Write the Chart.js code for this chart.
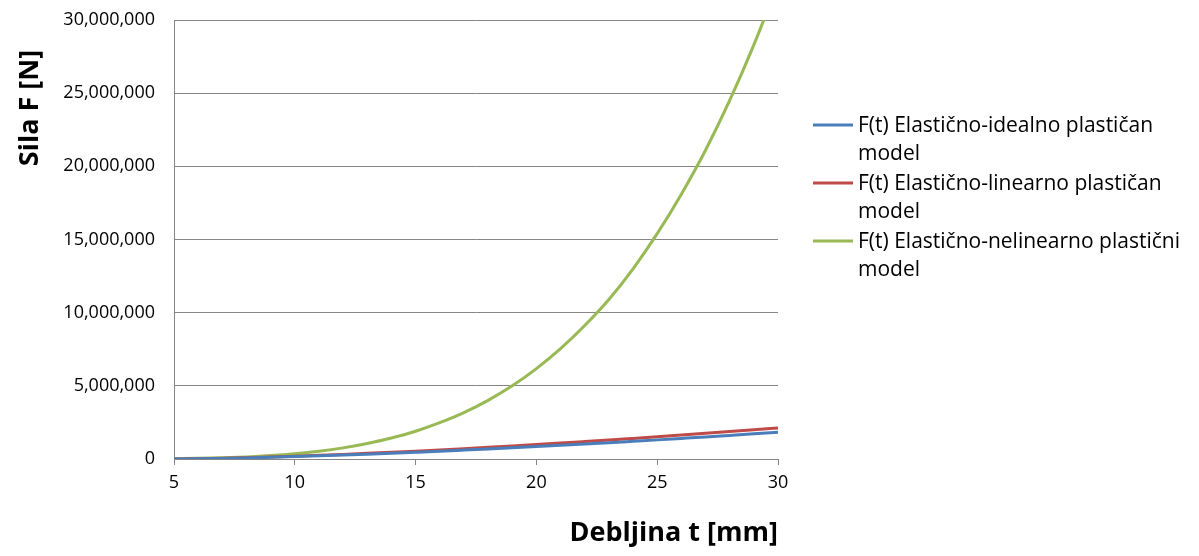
<!DOCTYPE html>
<html>
<head>
<meta charset="utf-8">
<script src="https://cdn.jsdelivr.net/npm/chart.js@4.4.1/dist/chart.umd.min.js"></script>
<style>
  html, body { margin: 0; padding: 0; background: #fff; }
  #wrap { width: 1199px; height: 556px; }
</style>
</head>
<body>
<div id="wrap"><canvas id="myChart" width="1199" height="556"></canvas></div>
<script>
// debljina t [mm]
const thickness = [5, 6, 7, 8, 9, 10, 11, 12, 13, 14, 15, 16, 17, 18, 19, 20, 21, 22, 23, 24, 25, 26, 27, 28, 29, 30];

// sila F [N]
const idealPlastic = [0, 15000, 41000, 76000, 117000, 163000, 215000, 271000, 331000, 395000, 463000, 533000, 608000, 685000, 766000, 850000, 936000, 1025000, 1116000, 1211000, 1307000, 1407000, 1508000, 1613000, 1719000, 1830000];
const linearPlastic = [0, 17000, 48000, 88000, 136000, 190000, 250000, 315000, 385000, 459000, 538000, 620000, 707000, 797000, 891000, 988000, 1088000, 1192000, 1298000, 1408000, 1520000, 1636000, 1754000, 1875000, 1999000, 2125000];
const nonlinearPlastic = [21000, 44000, 83000, 144000, 234000, 360000, 530000, 760000, 1060000, 1430000, 1900000, 2480000, 3170000, 4010000, 5000000, 6180000, 7540000, 9120000, 10900000, 13000000, 15400000, 18100000, 21100000, 24500000, 28300000, 32500000];

const seriesNames = [
    'F(t) Elastično-idealno plastičan model',
    'F(t) Elastično-linearno plastičan model',
    'F(t) Elastično-nelinearno plastični model'
];
const seriesColors = ['#4a7ebb', '#be4b48', '#98b954'];

const xTitle = 'Debljina t [mm]';
const yTitle = 'Sila F [N]';

const FONT = '"Open Sans", "Noto Sans", sans-serif';
const GRID = '#868686';

function toPoints(values) {
    return thickness.map((t, i) => ({ x: t, y: values[i] }));
}

// legend on the right, wrapped like the original
const sideLegend = {
    id: 'sideLegend',
    afterDraw(chart) {
        const ctx = chart.ctx;
        ctx.save();
        ctx.font = '21px ' + FONT;
        ctx.textBaseline = 'middle';
        ctx.textAlign = 'left';
        let y = 125;
        chart.data.datasets.forEach((ds) => {
            ctx.strokeStyle = ds.borderColor;
            ctx.lineWidth = 3;
            ctx.beginPath();
            ctx.moveTo(813, y);
            ctx.lineTo(853, y);
            ctx.stroke();

            const words = ds.label.split(' ');
            const lines = [];
            let line = '';
            for (let w of words) {
                const test = line ? line + ' ' + w : w;
                if (ctx.measureText(test).width > 345 && line) {
                    lines.push(line);
                    line = w;
                } else {
                    line = test;
                }
            }
            lines.push(line);
            ctx.fillStyle = '#000';
            lines.forEach((l, i) => ctx.fillText(l, 858, y + 1 + i * 28));
            y += 58;
        });
        ctx.restore();
    }
};

// vertical axis title sits near the top, not centred
const yAxisTitle = {
    id: 'yAxisTitle',
    afterDraw(chart) {
        const ctx = chart.ctx;
        ctx.save();
        ctx.font = 'bold 27px ' + FONT;
        ctx.fillStyle = '#000';
        ctx.textAlign = 'center';
        ctx.textBaseline = 'middle';
        ctx.translate(30, 108);
        ctx.rotate(-Math.PI / 2);
        ctx.fillText(yTitle, 0, 0);
        ctx.restore();
    }
};

var ctx = document.getElementById('myChart').getContext('2d');
var myChart = new Chart(ctx, {
    type: 'line',
    data: {
        datasets: [
            {
                label: seriesNames[0],
                data: toPoints(idealPlastic),
                borderColor: seriesColors[0],
                backgroundColor: seriesColors[0],
                borderWidth: 3
            },
            {
                label: seriesNames[1],
                data: toPoints(linearPlastic),
                borderColor: seriesColors[1],
                backgroundColor: seriesColors[1],
                borderWidth: 3
            },
            {
                label: seriesNames[2],
                data: toPoints(nonlinearPlastic),
                borderColor: seriesColors[2],
                backgroundColor: seriesColors[2],
                borderWidth: 3
            }
        ]
    },
    options: {
        responsive: false,
        animation: false,
        elements: {
            point: { radius: 0 },
            line: { cubicInterpolationMode: 'monotone' }
        },
        layout: {
            padding: { top: 20, right: 421, bottom: 0, left: 0 }
        },
        plugins: {
            legend: { display: false },
            tooltip: { enabled: false }
        },
        scales: {
            x: {
                type: 'linear',
                min: 5,
                max: 30,
                afterFit: (scale) => {
                    scale.height = 97;
                    scale.paddingLeft = 0;
                    scale.paddingRight = 0;
                },
                ticks: {
                    stepSize: 5,
                    color: '#000',
                    padding: 7,
                    font: { family: FONT, size: 18 }
                },
                grid: {
                    drawOnChartArea: false,
                    drawTicks: true,
                    tickLength: 6,
                    color: GRID
                },
                border: { color: GRID },
                title: {
                    display: true,
                    text: xTitle,
                    align: 'end',
                    color: '#000',
                    font: { family: FONT, size: 27, weight: 'bold' },
                    padding: { top: 0, bottom: 6 }
                }
            },
            y: {
                min: 0,
                max: 30000000,
                afterFit: (scale) => {
                    scale.width = 174;
                    scale.paddingTop = 0;
                    scale.paddingBottom = 0;
                },
                ticks: {
                    stepSize: 5000000,
                    color: '#000',
                    padding: 19,
                    font: { family: FONT, size: 18 },
                    callback: (v) => v.toLocaleString('en-US')
                },
                grid: {
                    drawTicks: false,
                    color: GRID
                },
                border: { color: GRID }
            }
        }
    },
    plugins: [sideLegend, yAxisTitle]
});
</script>
</body>
</html>
